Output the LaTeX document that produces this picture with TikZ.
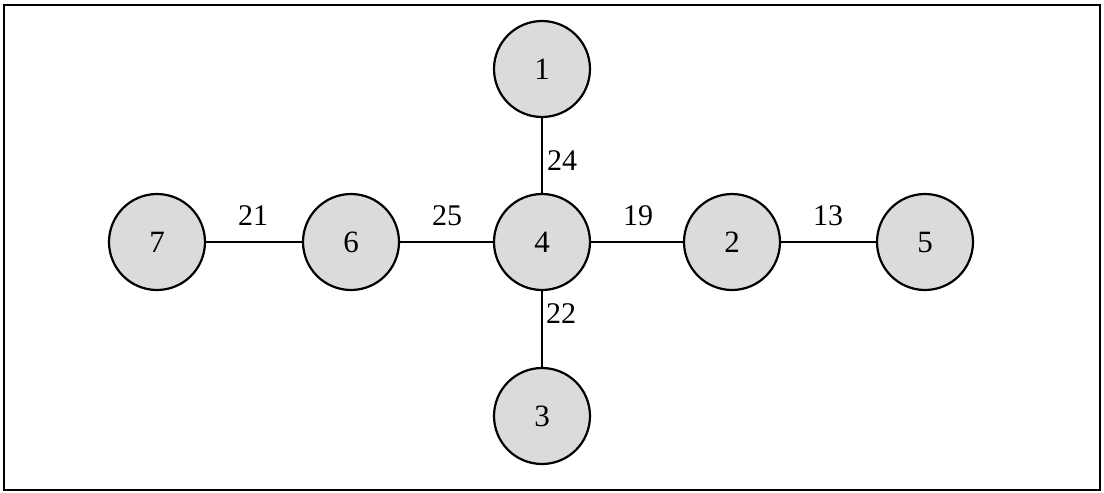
\documentclass[tikz,border=0pt]{standalone}
\usepackage{fontspec}
\setmainfont{Liberation Serif}
\begin{document}
\begin{tikzpicture}[x=1pt,y=-1pt,
  vert/.style={circle,draw=black,line width=2.2pt,fill=gray!28,minimum size=96pt,inner sep=0pt,font=\fontsize{31}{31}\selectfont},
  edge/.style={line width=1.8pt},
  wlab/.style={font=\fontsize{30}{30}\selectfont,inner sep=0pt}]
\useasboundingbox (0,0) rectangle (1104,493);
\draw[line width=2.2pt] (4,5) rectangle (1100,490);
\node[vert] (n1) at (542,69) {1};
\node[vert] (n4) at (542,242) {4};
\node[vert] (n3) at (542,416) {3};
\node[vert] (n7) at (157,242) {7};
\node[vert] (n6) at (351,242) {6};
\node[vert] (n2) at (732,242) {2};
\node[vert] (n5) at (925,242) {5};
\draw[edge] (n7) -- (n6);
\draw[edge] (n6) -- (n4);
\draw[edge] (n4) -- (n2);
\draw[edge] (n2) -- (n5);
\draw[edge] (n1) -- (n4);
\draw[edge] (n4) -- (n3);
\node[wlab] (l21) at (253,216) {21};
\node[wlab] (l25) at (447,216) {25};
\node[wlab] (l19) at (638,216) {19};
\node[wlab] (l13) at (828,216) {13};
\node[wlab] (l24) at (562,161) {24};
\node[wlab] (l22) at (561,314) {22};
\end{tikzpicture}
\end{document}
